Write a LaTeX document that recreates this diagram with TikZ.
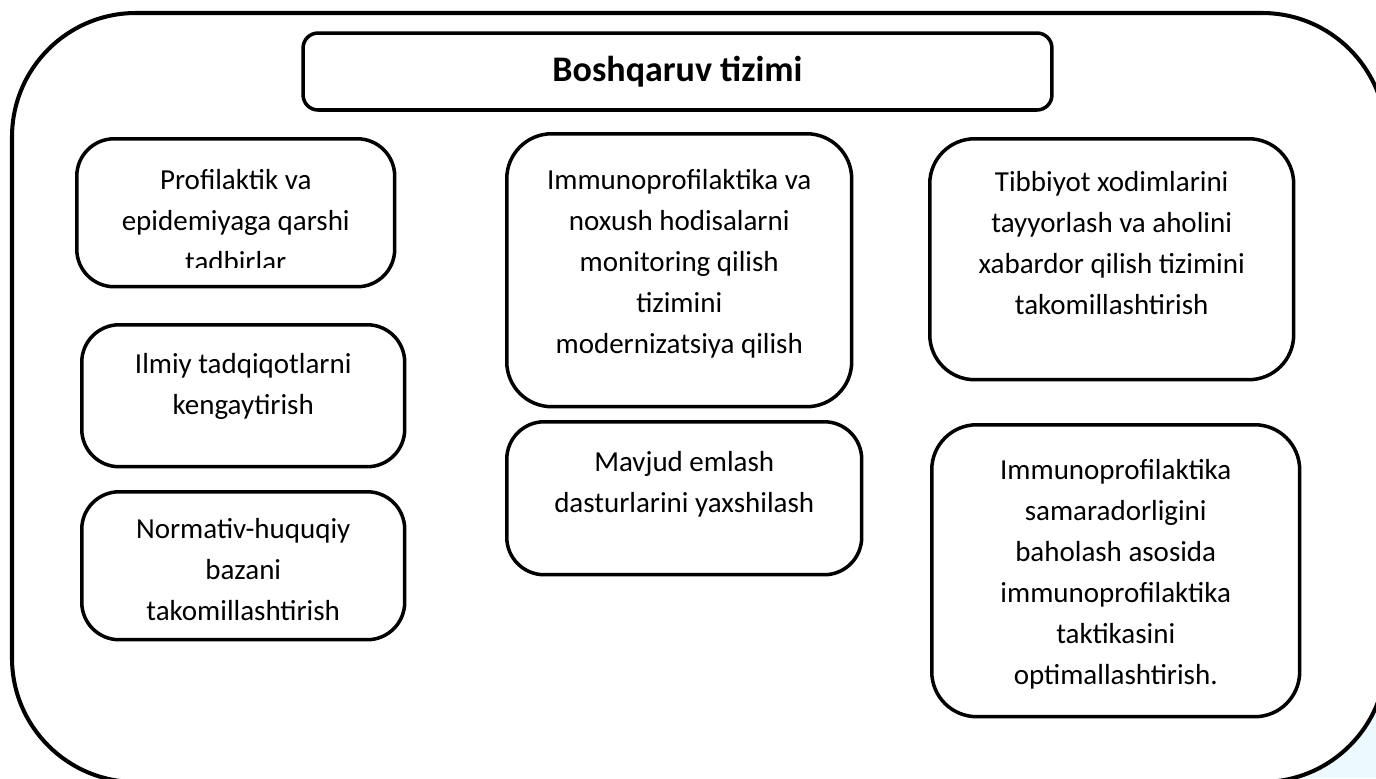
\documentclass[tikz,border=0pt]{standalone}
\usepackage{fontspec}
\setmainfont{Carlito}
\usepackage{tikz}
\usetikzlibrary{positioning}
\definecolor{paleblue}{RGB}{236,250,255}
\newcommand{\boxtext}[4]{\parbox[c][#2][t]{#1}{\centering\rule{0pt}{#3}#4}}

\begin{document}
\begin{tikzpicture}[
  x=0.02cm, y=-0.02cm,
  frame/.style={draw=black, line width=2.3pt, rounded corners=2.48cm, fill=white},
  head/.style={rectangle, draw=black, line width=2pt, rounded corners=0.3cm,
               minimum width=14.98cm, minimum height=1.54cm,
               font=\fontsize{20.5pt}{24pt}\selectfont\bfseries},
  box/.style={rectangle, draw=black, line width=2pt, rounded corners=0.75cm,
              anchor=north west, inner sep=0pt,
              font=\fontsize{16.5pt}{23.3pt}\selectfont},
  wide/.style={rounded corners=0.9cm}
]
\useasboundingbox (0,0) rectangle (1376,778);
\clip (0,0) rectangle (1376,778);
\fill[paleblue] (1250,640) rectangle (1376,778);
\draw[frame] (12,13) rectangle (1386,782);

\node[head] (title) at (677.5,71.5) {Boshqaruv tizimi};

% left column
\begin{scope}
  \clip (75,137) rectangle (393,267);
  \node[box, draw=none] (proftext) at (75,137)
    {\boxtext{6.36cm}{2.96cm}{1.02cm}{Profilaktik va\\epidemiyaga qarshi\\tadbirlar}};
\end{scope}
\node[box, minimum width=6.36cm, minimum height=2.96cm] (prof) at (75,137) {};
\node[box] (ilmiy) at (80,323)
  {\boxtext{6.46cm}{2.84cm}{0.98cm}{Ilmiy tadqiqotlarni\\kengaytirish}};
\node[box] (norm) at (80,490)
  {\boxtext{6.46cm}{2.96cm}{0.94cm}{Normativ-huquqiy\\bazani\\takomillashtirish}};

% middle column
\node[box, wide] (monit) at (505,132)
  {\boxtext{6.9cm}{5.46cm}{1.12cm}{Immunoprofilaktika va\\noxush hodisalarni\\monitoring qilish\\tizimini\\modernizatsiya qilish}};
\node[box] (emlash) at (505,420)
  {\boxtext{7.1cm}{3.06cm}{1.0cm}{Mavjud emlash\\dasturlarini yaxshilash}};

% right column
\node[box, wide] (kadr) at (928,137)
  {\boxtext{7.28cm}{4.82cm}{1.06cm}{Tibbiyot xodimlarini\\tayyorlash va aholini\\xabardor qilish tizimini\\takomillashtirish}};
\node[box, wide] (taktika) at (930,423)
  {\boxtext{7.36cm}{5.84cm}{1.1cm}{Immunoprofilaktika\\samaradorligini\\baholash asosida\\immunoprofilaktika\\taktikasini\\optimallashtirish.}};
\end{tikzpicture}
\end{document}
